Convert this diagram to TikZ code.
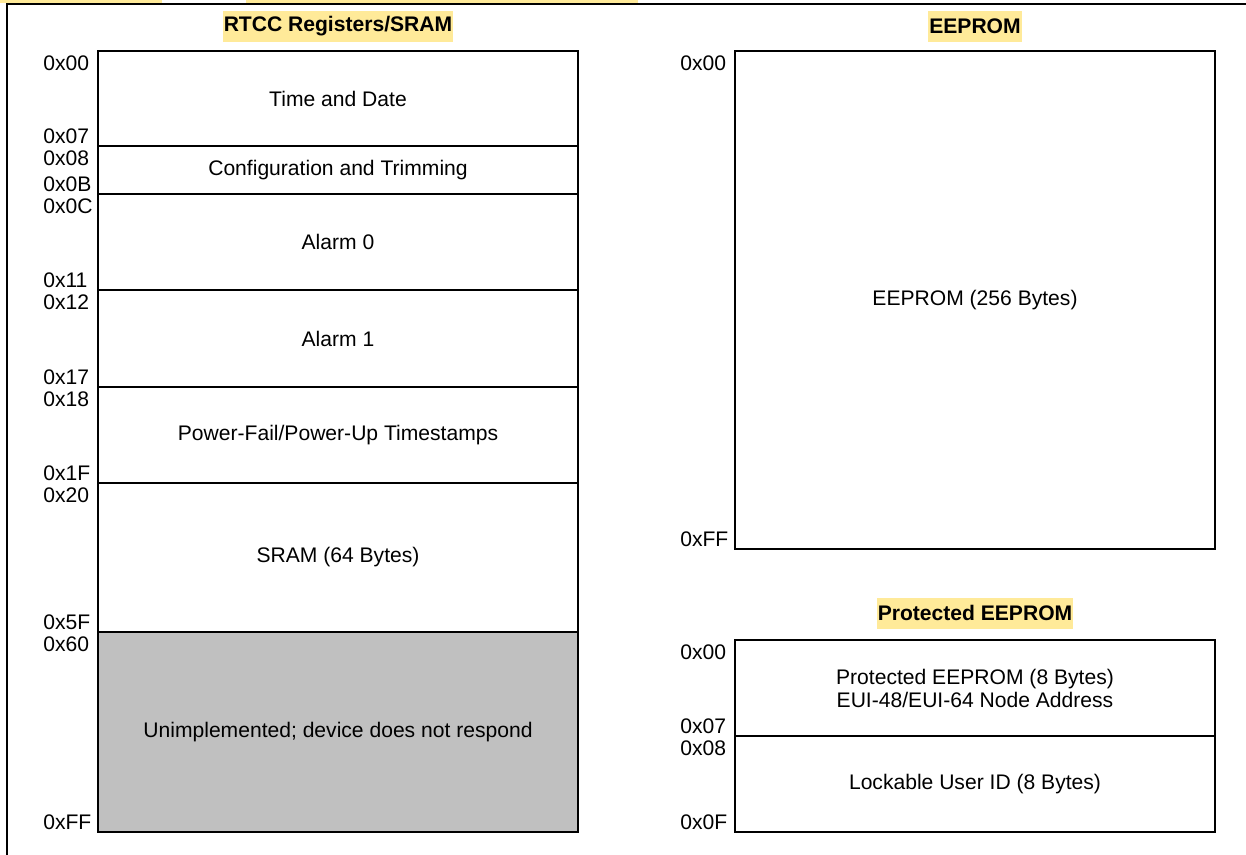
\documentclass[tikz,border=0pt]{standalone}
\usepackage{fontspec}
\setmainfont{Liberation Sans}
\usetikzlibrary{positioning}
\definecolor{titleyellow}{RGB}{255,234,153}
\definecolor{unimplgray}{RGB}{192,192,192}
\def\boxlinewidth{1.42pt}
\def\framelinewidth{2.1pt}
\def\blockwidth{12cm}
\def\titlefillcolor{titleyellow}
\def\unimplfillcolor{unimplgray}
\def\addrxshift{1.375cm}
\def\addrtopgap{0.1cm}
\def\addrbottomgap{0.075cm}
\def\blockfont{\fontsize{15}{16.4}\selectfont}
\tikzset{
	% titles
	title_label/.style={
		font=\blockfont\bfseries,
		fill=\titlefillcolor,
		inner xsep=0.03cm,
		inner ysep=0pt,
		minimum height=0.775cm,
	},
	% address labels
	addr_first/.style={
		font=\blockfont,
		inner sep=0pt,
		anchor=north west,
	},
	addr_last/.style={
		font=\blockfont,
		inner sep=0pt,
		anchor=base west,
	},
	% memory blocks
	block/.style={
		draw,
		line width=\boxlinewidth,
		shape=rectangle,
		font=\blockfont,
		align=center,
		minimum width=\blockwidth,
		inner sep=0pt,
		outer sep=0pt,
	},
	unimpl_block/.style={
		block,
		fill=\unimplfillcolor,
	},
}
\begin{document}
\begin{tikzpicture}
	\useasboundingbox (0,0) rectangle (31.15,-21.35);
	% cut off highlights and frame
	\fill[\titlefillcolor] (0,0) rectangle (4.05,-0.075);
	\fill[\titlefillcolor] (6.15,0) rectangle (15.95,-0.075);
	\draw[line width=\framelinewidth] (0.175,-21.6) -- (0.175,-0.1) -- (31.4,-0.1);
	%
	\node[
		block,
		minimum height=2.375cm,
		anchor=north west
	] (time_date) at (2.45,-1.275) {Time and Date};
	%
	\node[
		block,
		minimum height=1.2cm,
		anchor=north
	] (config) at (time_date.south) {Configuration and Trimming};
	%
	\node[
		block,
		minimum height=2.4cm,
		anchor=north
	] (alarm0) at (config.south) {Alarm 0};
	%
	\node[
		block,
		minimum height=2.425cm,
		anchor=north
	] (alarm1) at (alarm0.south) {Alarm 1};
	%
	\node[
		block,
		minimum height=2.4cm,
		anchor=north
	] (timestamps) at (alarm1.south) {Power-Fail/Power-Up Timestamps};
	%
	\node[
		block,
		minimum height=3.725cm,
		anchor=north
	] (sram) at (timestamps.south) {SRAM (64 Bytes)};
	%
	\node[
		unimpl_block,
		minimum height=5cm,
		anchor=north
	] (unimpl) at (sram.south) {Unimplemented; device does not respond};
	%
	\node[
		title_label,
		above=0.225cm of time_date.north
	] (rtcc_title) {RTCC Registers/SRAM};
	%
	\node[
		block,
		minimum height=12.45cm,
		anchor=north west
	] (eeprom) at ([xshift=3.925cm]time_date.north east) {EEPROM (256 Bytes)};
	%
	\node[
		title_label,
		above=0.225cm of eeprom.north
	] (eeprom_title) {EEPROM};
	%
	\node[
		block,
		minimum height=2.4cm,
		anchor=north
	] (protected) at ([yshift=-2.275cm]eeprom.south) {Protected EEPROM (8 Bytes)\\EUI-48/EUI-64 Node Address};
	%
	\node[
		block,
		minimum height=2.4cm,
		anchor=north
	] (lockable) at (protected.south) {Lockable User ID (8 Bytes)};
	%
	\node[
		title_label,
		above=0.275cm of protected.north
	] (protected_title) {Protected EEPROM};
	%
	% address ranges
	\foreach \blk/\first/\last in {time_date/0x00/0x07, config/0x08/0x0B, alarm0/0x0C/0x11, alarm1/0x12/0x17, timestamps/0x18/0x1F, sram/0x20/0x5F, unimpl/0x60/0xFF, eeprom/0x00/0xFF, protected/0x00/0x07, lockable/0x08/0x0F}{
		\node[addr_first] (\blk_first) at ([xshift=-\addrxshift, yshift=-\addrtopgap]\blk.north west) {\first};
		\node[addr_last] (\blk_last) at ([xshift=-\addrxshift, yshift=\addrbottomgap]\blk.south west) {\last};
	}
\end{tikzpicture}
\end{document}
